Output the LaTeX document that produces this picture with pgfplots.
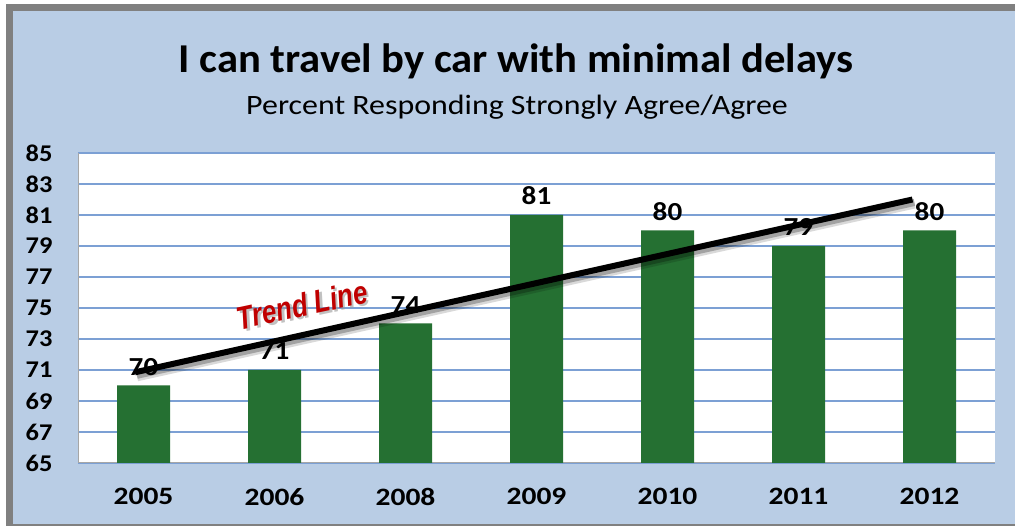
\documentclass[border=0pt]{standalone}
\usepackage{pgfplots}
\pgfplotsset{compat=1.18}
\usepackage{fontspec}
\setmainfont{Carlito}
\newfontfamily\arialf{Liberation Sans}
\definecolor{panel}{RGB}{185,205,229}
\definecolor{frame}{RGB}{128,128,128}
\definecolor{bargreen}{RGB}{37,112,50}
\definecolor{gridblue}{RGB}{124,160,212}
\definecolor{trendred}{RGB}{192,0,0}
\begin{document}
\begin{tikzpicture}[x=1pt,y=1pt]
\path[use as bounding box] (0,0) rectangle (1015,527);
\fill[white] (0,0) rectangle (1015,527);
\fill[frame] (6,1) rectangle (1015,523);
\fill[panel] (13,3) rectangle (1015,516);
\node[anchor=base, xscale=1.04, font=\bfseries\fontsize{41}{41}\selectfont] at (516,454) {I can travel by car with minimal delays};
\node[anchor=base, xscale=1.14, font=\fontsize{28}{28}\selectfont] at (517,412) {Percent Responding Strongly Agree/Agree};
\begin{axis}[
  at={(78pt,64pt)}, anchor=south west,
  scale only axis, width=917pt, height=310pt,
  xmin=-0.5, xmax=6.5, ymin=65, ymax=85,
  xtick={0,1,2,3,4,5,6},
  xticklabels={2005,2006,2008,2009,2010,2011,2012},
  ytick={65,67,69,71,73,75,77,79,81,83,85},
  major tick length=0pt,
  axis background/.style={fill=white},
  axis x line*=bottom, axis y line*=left,
  axis line style={draw=black!35, line width=1pt},
  ymajorgrids, grid style={gridblue, line width=1.2pt},
  /pgf/number format/assume math mode=true,
  yticklabel style={font=\bfseries\fontsize{24}{24}\selectfont, xscale=1.1, anchor=east, inner sep=0pt, xshift=-23pt},
  xticklabel style={font=\bfseries\fontsize{25}{25}\selectfont, xscale=1.18, anchor=north, inner sep=0pt, yshift=-25pt},
  clip=false,
]
\addplot[ybar, bar width=53pt, fill=bargreen, draw=none,
  nodes near coords,
  every node near coord/.append style={font=\bfseries\fontsize{26}{26}\selectfont, xscale=1.12, black, anchor=south, inner sep=0pt, yshift=10pt},
  /pgf/number format/assume math mode=true]
  coordinates {(0,70) (1,71) (2,74) (3,81) (4,80) (5,79) (6,80)};
\addplot[black, opacity=0.15, line width=10pt, shift={(2pt,-4pt)}] coordinates {(-0.065,70.85) (5.87,82.0)};
\addplot[black, opacity=0.25, line width=7pt, shift={(2pt,-3pt)}] coordinates {(-0.065,70.85) (5.87,82.0)};
\addplot[black, line width=6pt] coordinates {(-0.065,70.85) (5.87,82.0)};
\node[rotate=12, yscale=1.25, text=black!40, opacity=0.6, font=\arialf\bfseries\itshape\fontsize{26}{26}\selectfont] at (axis cs:1.21,75.2) [xshift=2pt,yshift=-2pt] {Trend Line};
\node[rotate=12, yscale=1.25, text=trendred, font=\arialf\bfseries\itshape\fontsize{26}{26}\selectfont] at (axis cs:1.21,75.2) {Trend Line};
\end{axis}
\end{tikzpicture}
\end{document}
